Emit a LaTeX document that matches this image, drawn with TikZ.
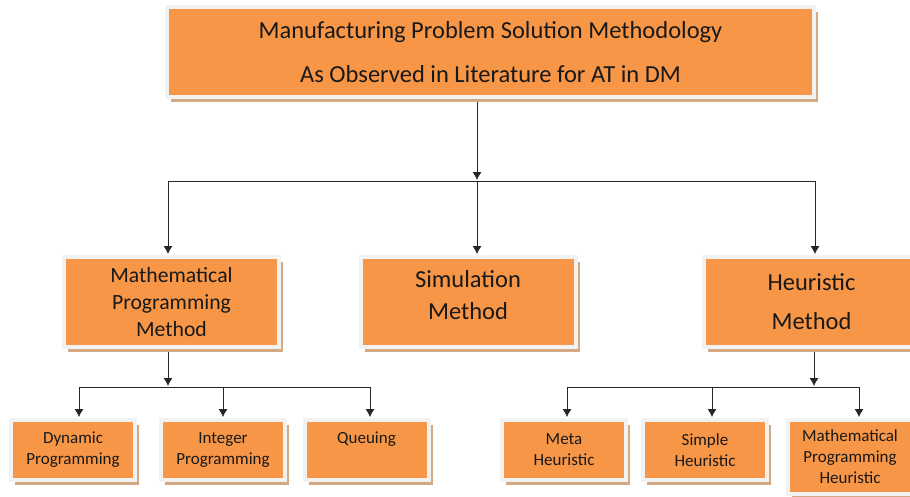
\documentclass[tikz,border=0pt]{standalone}
\usepackage{fontspec}
\setmainfont{Carlito}
\usetikzlibrary{arrows,arrows.meta,shadows}
\definecolor{accent}{HTML}{F79646}
\definecolor{shadetan}{HTML}{D6A985}
\definecolor{framegray}{HTML}{F2F2F2}

\begin{document}
\begin{tikzpicture}[x=1pt,y=1pt,->,>={Latex[length=8pt,width=9pt]},shorten >=1pt,shorten <=3pt,node distance=250pt,
  line width=0.8pt,draw=black!85,
  box/.style={rectangle,fill=accent,draw=framegray,line width=4pt,inner sep=0pt,align=center,text=black!90,
    drop shadow={shadow xshift=4pt,shadow yshift=-5pt,fill=shadetan,opacity=1}},
  top node/.style={box,minimum width=647pt,minimum height=89.5pt,font=\fontsize{24.5}{44}\selectfont},
  main node/.style={box,minimum width=215pt,minimum height=90pt,font=\fontsize{24.5}{32}\selectfont},
  sub node/.style={box,minimum width=124pt,minimum height=60pt,font=\fontsize{17}{21}\selectfont}]
  \useasboundingbox (0,0) rectangle (910,-496);

  \node[top node] (1) at (490.5,-52) {Manufacturing Problem Solution Methodology\\As Observed in Literature for AT in DM};
  \node[main node,font=\fontsize{21.7}{27}\selectfont] (2) [below of=1,xshift=-319pt] {Mathematical\\Programming\\Method};
  \node[main node] (3) [below of=1,xshift=-22.5pt] {Simulation\\Method\\[-18pt]\mbox{}};
  \node[main node,font=\fontsize{24.5}{39}\selectfont] (4) [below of=1,xshift=321pt] {Heuristic\\Method};
  \node[sub node] (5) [below of=2,yshift=102pt,xshift=-98.5pt] {Dynamic\\Programming};
  \node[sub node] (6) [below of=2,yshift=102pt,xshift=51.5pt] {Integer\\Programming};
  \node[sub node] (7) [below of=2,yshift=102pt,xshift=195pt] {Queuing\\\phantom{Queuing}};
  \node[sub node] (8) [below of=4,yshift=102pt,xshift=-247.5pt] {Meta\\Heuristic};
  \node[sub node] (9) [below of=4,yshift=102pt,xshift=-106.5pt] {Simple\\Heuristic};
  \node[sub node,minimum height=74pt] (10) [below of=4,yshift=95pt,xshift=38.5pt] {Mathematical\\Programming\\Heuristic};

  \coordinate (j1) at (477,-181);
  \coordinate (j2) at (168,-387);
  \coordinate (j3) at (814,-387);

  % top level
  \draw (1.south -| j1) -- (j1);
  \draw[shorten <=0pt] (j1) -| ([xshift=-3.5pt]2.north);
  \draw[shorten <=0pt] (j1) -- (j1 |- 3.north);
  \draw[shorten <=0pt] (j1) -| ([xshift=3.5pt]4.north);
  % mathematical programming
  \draw (2.south -| j2) -- (j2);
  \draw[shorten <=0pt] (j2) -| ([xshift=6pt]5.north);
  \draw[shorten <=0pt] (j2) -| (6.north);
  \draw[shorten <=0pt] (j2) -| ([xshift=3.5pt]7.north);
  % heuristic
  \draw (4.south -| j3) -- (j3);
  \draw[shorten <=0pt] (j3) -| ([xshift=3pt]8.north);
  \draw[shorten <=0pt] (j3) -| ([xshift=7pt]9.north);
  \draw[shorten <=0pt] (j3) -| ([xshift=9pt]10.north);
\end{tikzpicture}
\end{document}
